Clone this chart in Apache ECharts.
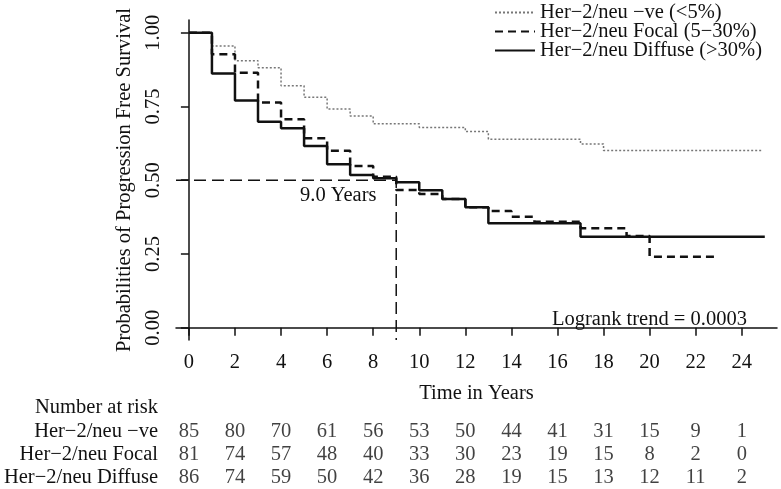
<!DOCTYPE html>
<html><head><meta charset="utf-8">
<script src="https://cdn.jsdelivr.net/npm/echarts@6/dist/echarts.min.js"></script>
<style>html,body{margin:0;padding:0;background:#fff}#c{width:781px;height:489px}</style>
</head><body><div id="c"></div>
<script>
// Kaplan-Meier step data (time in years, survival probability)
const negT = [0, 1, 2, 3, 4, 5, 6, 7, 8, 10, 12, 13, 17, 18, 24.9];
const negS = [1.0, 0.955, 0.905, 0.881, 0.820, 0.781, 0.741, 0.718, 0.691, 0.679, 0.665, 0.639, 0.623, 0.601, 0.601];
const focalT = [0, 1, 2, 3, 4, 5, 6, 7, 8, 9, 10, 11, 12, 13, 14, 15, 17, 19, 20, 23];
const focalS = [1.0, 0.927, 0.864, 0.763, 0.707, 0.642, 0.600, 0.548, 0.512, 0.467, 0.453, 0.436, 0.408, 0.396, 0.376, 0.359, 0.337, 0.311, 0.241, 0.241];
const diffT = [0, 1, 2, 3, 4, 5, 6, 7, 8, 9, 10, 11, 12, 13, 17, 25];
const diffS = [1.0, 0.862, 0.770, 0.698, 0.676, 0.616, 0.554, 0.518, 0.507, 0.493, 0.466, 0.436, 0.408, 0.354, 0.308, 0.308];

const groupNames = ['Her−2/neu −ve (<5%)', 'Her−2/neu Focal (5−30%)', 'Her−2/neu Diffuse (>30%)'];
const riskRows = ['Her−2/neu −ve', 'Her−2/neu Focal', 'Her−2/neu Diffuse'];
const riskYears = [0, 2, 4, 6, 8, 10, 12, 14, 16, 18, 20, 22, 24];
const riskNeg = [85, 80, 70, 61, 56, 53, 50, 44, 41, 31, 15, 9, 1];
const riskFocal = [81, 74, 57, 48, 40, 33, 30, 23, 19, 15, 8, 2, 0];
const riskDiffuse = [86, 74, 59, 50, 42, 36, 28, 19, 15, 13, 12, 11, 2];
const yTicks = [0, 0.25, 0.5, 0.75, 1];
const medianTime = 9.0;
const medianProb = 0.5;

const X_MIN = -0.56, X_MAX = 25.53, Y_MIN = -0.0415, Y_MAX = 1.043;
const FONT = 'Liberation Serif';
const FS = 20.5;
const INK = '#111';

const zip = (t, s) => t.map((v, i) => [v, s[i]]);
const riskData = [];
[riskNeg, riskFocal, riskDiffuse].forEach((row, r) => {
  row.forEach((n, i) => riskData.push([riskYears[i], riskRows[r], n]));
});

const chart = echarts.init(document.getElementById('c'), null, {renderer: 'canvas'});
chart.setOption({
  backgroundColor: '#fff',
  animation: false,
  textStyle: {fontFamily: FONT, color: INK},
  legend: {
    data: groupNames,
    orient: 'vertical',
    left: 494, top: 2, padding: 0,
    itemWidth: 40, itemHeight: 10, itemGap: -2,
    itemStyle: {opacity: 0},
    textStyle: {fontFamily: FONT, fontSize: FS, color: INK, lineHeight: 19},
    selectedMode: false
  },
  grid: [
    {left: 176, right: 4, top: 20, bottom: 149},
    {left: 176, right: 4, top: 420, height: 71.4}
  ],
  xAxis: [
    {
      type: 'value', gridIndex: 0, min: X_MIN, max: X_MAX,
      name: 'Time in Years', nameLocation: 'middle', nameGap: 43,
      nameTextStyle: {fontFamily: FONT, fontSize: FS, color: INK},
      axisLine: {show: true, lineStyle: {color: INK, width: 1.5}},
      axisTick: {show: true, length: 8, customValues: riskYears, lineStyle: {color: INK, width: 1.5}},
      axisLabel: {customValues: riskYears, margin: 12, fontFamily: FONT, fontSize: FS, color: INK},
      splitLine: {show: false}
    },
    {
      type: 'value', gridIndex: 1, min: X_MIN, max: X_MAX, show: false
    }
  ],
  yAxis: [
    {
      type: 'value', gridIndex: 0, min: Y_MIN, max: Y_MAX,
      name: 'Probabilities of Progression Free Survival', nameLocation: 'middle', nameGap: 36,
      nameTextStyle: {fontFamily: FONT, fontSize: FS, color: INK},
      axisLine: {show: true, lineStyle: {color: INK, width: 1.5}},
      axisTick: {show: true, length: 8, customValues: yTicks, lineStyle: {color: INK, width: 1.5}},
      axisLabel: {customValues: yTicks, rotate: 90, margin: 12, fontFamily: FONT, fontSize: FS, color: INK,
        formatter: v => v.toFixed(2)},
      splitLine: {show: false}
    },
    {
      type: 'category', gridIndex: 1, data: riskRows, inverse: true,
      axisLine: {show: false}, axisTick: {show: false},
      axisLabel: {interval: 0, margin: 18, fontFamily: FONT, fontSize: FS, color: INK, align: 'right'}
    }
  ],
  series: [
    {
      name: groupNames[0], type: 'line', step: 'end', symbol: 'none',
      data: zip(negT, negS),
      lineStyle: {color: '#777', width: 1.5, type: [2, 2]}, itemStyle: {color: '#777'}
    },
    {
      name: groupNames[1], type: 'line', step: 'end', symbol: 'none',
      data: zip(focalT, focalS),
      lineStyle: {color: INK, width: 2.5, type: [8, 5]}, itemStyle: {color: INK}
    },
    {
      name: groupNames[2], type: 'line', step: 'end', symbol: 'none',
      data: zip(diffT, diffS),
      lineStyle: {color: INK, width: 2.5, type: 'solid'}, itemStyle: {color: INK}
    },
    {
      name: 'median', type: 'line', symbol: 'none', silent: true,
      data: [[X_MIN, medianProb], [medianTime, medianProb], [medianTime, Y_MIN]],
      lineStyle: {color: INK, width: 1.5, type: [12, 6]}
    },
    {
      name: 'risk', type: 'scatter', xAxisIndex: 1, yAxisIndex: 1, symbolSize: 0,
      data: riskData,
      label: {show: true, position: 'inside', formatter: p => String(p.value[2]),
        fontFamily: FONT, fontSize: FS, color: INK}
    }
  ],
  graphic: [
    {type: 'text', left: 300, top: 185, style: {text: medianTime.toFixed(1) + ' Years', font: FS + 'px "Liberation Serif"', fill: INK}},
    {type: 'text', left: 552, top: 309, style: {text: 'Logrank trend = 0.0003', font: FS + 'px "Liberation Serif"', fill: INK}},
    {type: 'text', right: 781 - 158, top: 397, style: {text: 'Number at risk', font: FS + 'px "Liberation Serif"', fill: INK, textAlign: 'right'}}
  ]
});
</script>
</body></html>
